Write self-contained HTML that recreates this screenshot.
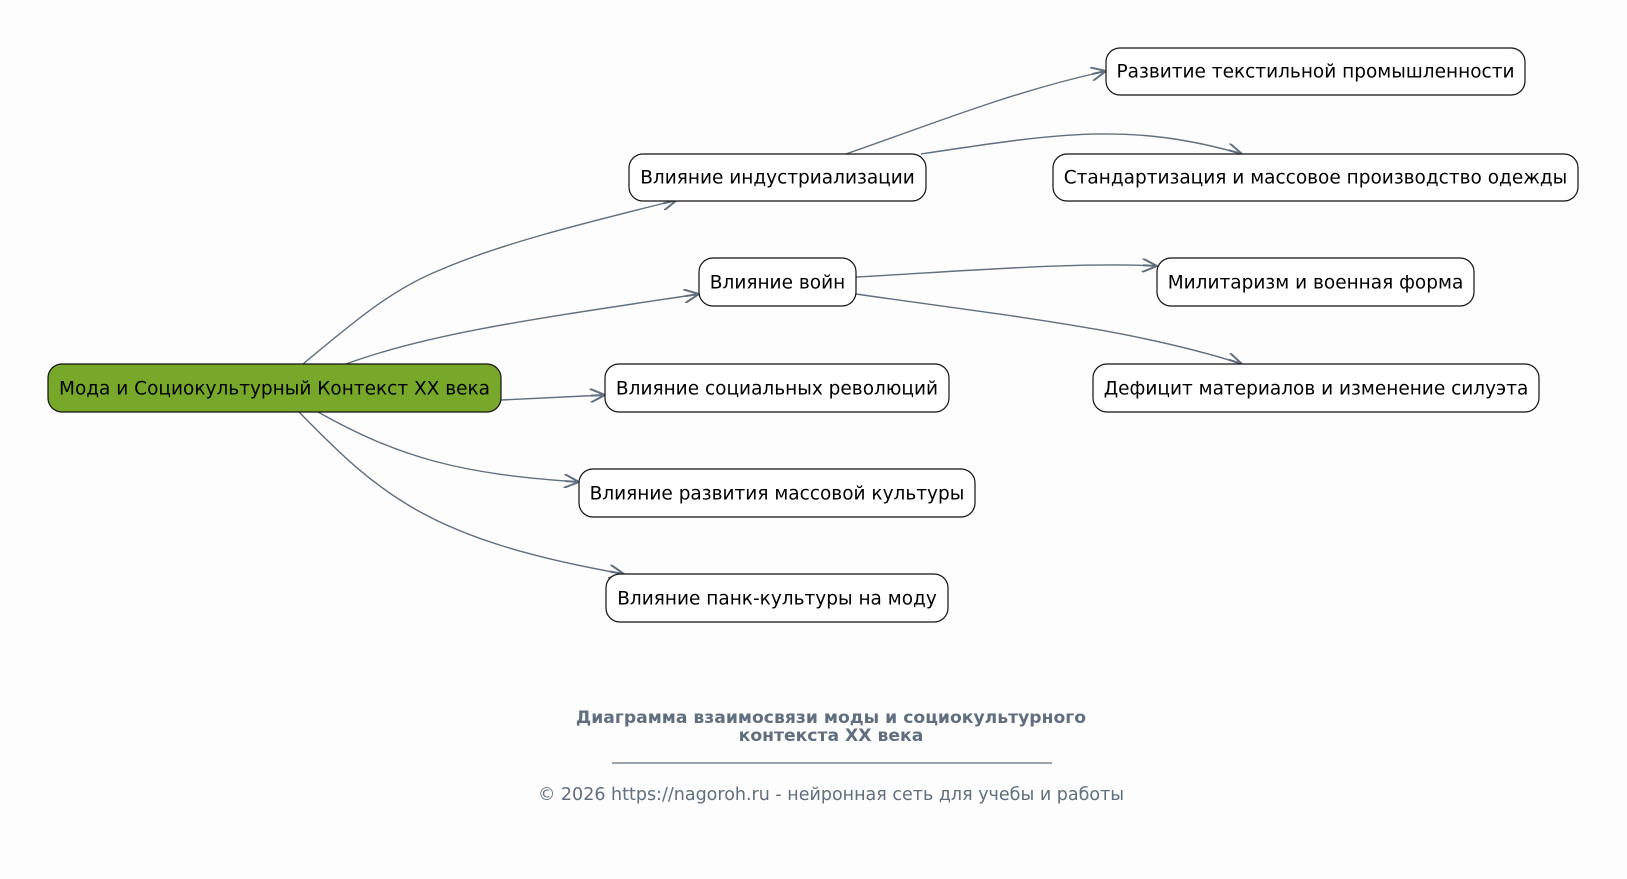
<!DOCTYPE html>
<html><head><meta charset="utf-8"><style>
html,body{margin:0;padding:0;background:#fdfdfd;}
svg{display:block;font-family:"DejaVu Sans","Liberation Sans",sans-serif;}
</style></head><body>
<svg width="1627" height="879" viewBox="0 0 1627 879" xmlns="http://www.w3.org/2000/svg">
<defs>
<marker id="a" viewBox="0 0 16 14" refX="15" refY="7" markerWidth="16" markerHeight="14" markerUnits="userSpaceOnUse" orient="auto">
<path d="M0,0 L15,7 L0,14 M15,7 L1,7" fill="none" stroke="#5f6f7f" stroke-width="2"/>
</marker>
</defs>
<rect width="1627" height="879" fill="#fdfdfd"/>
<g fill="none" stroke="#5f6f7f" stroke-width="1.4" marker-end="url(#a)">
<path d="M303,364 C350,325 390,290 440,270 C500,244 580,224 677,200"/>
<path d="M346,364 C430,333 540,318 699,294"/>
<path d="M501,400 L605,395"/>
<path d="M318,412 C400,458 460,474 579,482"/>
<path d="M299,412 C380,495 430,540 624,574"/>
<path d="M846,154 C930,125 1010,92 1106,71"/>
<path d="M921,154 C1060,133 1130,122 1242,154"/>
<path d="M856,277 C980,270 1080,262 1157,266"/>
<path d="M856,294 C1000,315 1130,328 1242,364"/>
</g>
<g stroke="#111" stroke-width="1.2">
<rect x="48" y="364" width="453" height="48" rx="14" fill="#77a82a"/>
<rect x="629" y="154" width="297" height="47" rx="14" fill="#fff"/>
<rect x="699" y="258" width="157" height="48" rx="14" fill="#fff"/>
<rect x="605" y="364" width="344" height="48" rx="14" fill="#fff"/>
<rect x="579" y="469" width="396" height="48" rx="14" fill="#fff"/>
<rect x="606" y="574" width="342" height="48" rx="14" fill="#fff"/>
<rect x="1106" y="48" width="419" height="47" rx="14" fill="#fff"/>
<rect x="1053" y="154" width="525" height="47" rx="14" fill="#fff"/>
<rect x="1157" y="258" width="317" height="48" rx="14" fill="#fff"/>
<rect x="1093" y="364" width="446" height="48" rx="14" fill="#fff"/>
</g>
<g font-size="18.5" fill="#000" text-anchor="middle">
<text x="274.5" y="394.5">Мода и Социокультурный Контекст XX века</text>
<text x="777.5" y="183.5">Влияние индустриализации</text>
<text x="777.5" y="288.5">Влияние войн</text>
<text x="777" y="394.5">Влияние социальных революций</text>
<text x="777" y="499.5">Влияние развития массовой культуры</text>
<text x="777" y="604.5">Влияние панк-культуры на моду</text>
<text x="1315.5" y="77.5">Развитие текстильной промышленности</text>
<text x="1315.5" y="183.5">Стандартизация и массовое производство одежды</text>
<text x="1315.5" y="288.5">Милитаризм и военная форма</text>
<text x="1316" y="394.5">Дефицит материалов и изменение силуэта</text>
</g>
<g fill="#5f6f7f" text-anchor="middle">
<text x="831" y="723" font-size="17.2" font-weight="bold">Диаграмма взаимосвязи моды и социокультурного</text>
<text x="831" y="741" font-size="17.2" font-weight="bold">контекста XX века</text>
<line x1="612" y1="763" x2="1052" y2="763" stroke="#5f6f7f" stroke-width="1.2"/>
<text x="831" y="800" font-size="17.5">© 2026 https://nagoroh.ru - нейронная сеть для учебы и работы</text>
</g>
</svg>
</body></html>
